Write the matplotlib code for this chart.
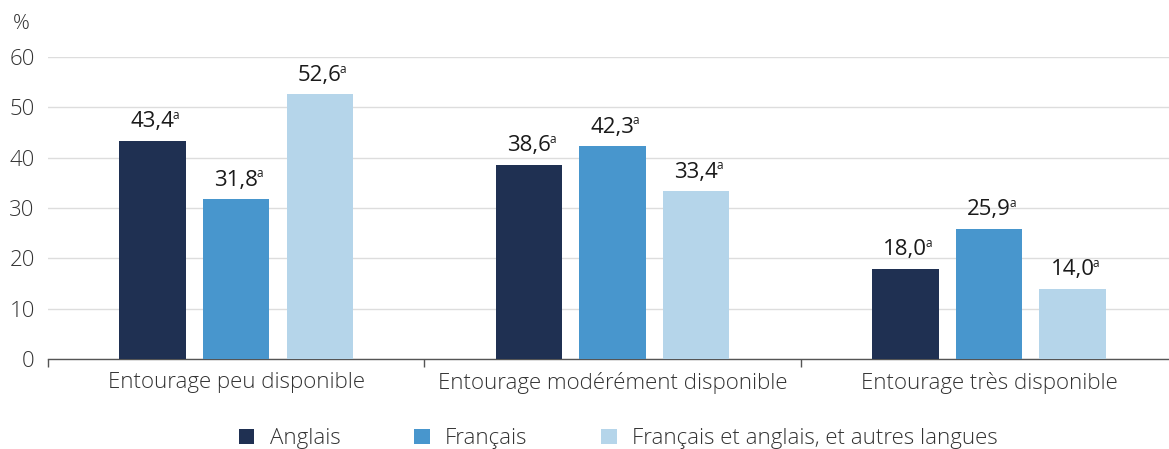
import numpy as np
import matplotlib.pyplot as plt

plt.rcParams['font.family'] = ['Open Sans', 'DejaVu Sans']

categories = ['Entourage peu disponible', 'Entourage modérément disponible', 'Entourage très disponible']
series = ['Anglais', 'Français', 'Français et anglais, et autres langues']
anglais = [43.4, 38.6, 18.0]
francais = [31.8, 42.3, 25.9]
autres = [52.6, 33.4, 14.0]
colors = ['#1f3052', '#4896cd', '#b5d5ea']
yticks = [0, 10, 20, 30, 40, 50, 60]

fig = plt.figure(figsize=(11.69, 4.49), dpi=100)
ax = fig.add_axes([0.041, 0.2, 0.966, 0.673])

x = np.arange(len(categories))
width = 0.176
step = 0.222
text_col = '#1a1a1a'
light_col = '#333333'

labels = []
for i, (vals, name) in enumerate(zip([anglais, francais, autres], series)):
    pos = x + (i - 1) * step
    ax.bar(pos, vals, width, color=colors[i], label=name, zorder=3)
    for p, v in zip(pos, vals):
        t = ax.annotate(f'{v:.1f}'.replace('.', ','), (p, v), xytext=(0, 6),
                        textcoords='offset points', ha='center', va='bottom',
                        fontsize=16, color=text_col)
        labels.append(t)

# small superscript "a" after each value
for t in labels:
    ax.annotate('a', xy=(1, 0), xycoords=t, xytext=(-1.2, 9.6), textcoords='offset points',
                ha='left', va='baseline', fontsize=8.5, color=text_col)

ax.set_xlim(-0.5, 2.5)
ax.set_ylim(0, 60)
ax.set_yticks(yticks)
ax.yaxis.grid(True, color='#dddddd', linewidth=1, zorder=0)
ax.tick_params(axis='y', length=0, labelsize=16, labelcolor=light_col, pad=9.5)
for lab in ax.get_yticklabels():
    lab.set_fontweight('light')

ax.set_xticks(x)
ax.set_xticklabels(categories, fontsize=16, color=light_col, fontweight='light')
ax.tick_params(axis='x', length=0, pad=9)
ax.set_xticks([-0.5, 0.5, 1.5, 2.5], minor=True)
ax.tick_params(axis='x', which='minor', length=6, color='#555555', width=1)

for s in ['top', 'right', 'left']:
    ax.spines[s].set_visible(False)
ax.spines['bottom'].set_color('#555555')
ax.spines['bottom'].set_linewidth(1)

fig.text(0.011, 0.935, '%', fontsize=15, color=light_col, fontweight='light')

leg = fig.legend(loc='lower center', bbox_to_anchor=(0.529, -0.045), ncol=3, frameon=False,
                 prop={'size': 16, 'weight': 'light'}, handlelength=0.7, handleheight=0.7,
                 columnspacing=3.3, handletextpad=0.7)
for t in leg.get_texts():
    t.set_color(light_col)

fig.savefig('out.png', dpi=100)
